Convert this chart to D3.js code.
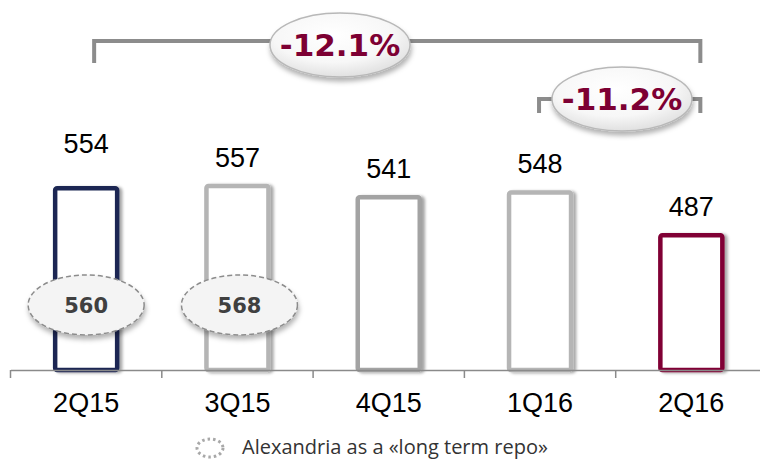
<!DOCTYPE html>
<html>
<head>
<meta charset="utf-8">
<script src="https://cdn.jsdelivr.net/npm/d3@7"></script>
<style>
  html, body { margin: 0; padding: 0; background: #fff; }
  svg { display: block; }
</style>
</head>
<body>
<svg id="chart" width="760" height="461"></svg>
<script>
const quarters = ["2Q15", "3Q15", "4Q15", "1Q16", "2Q16"];
const values = [554, 557, 541, 548, 487];
const alexandria = [560, 568, null, null, null];
const changes = [
  { label: "-12.1%", from: "2Q15", to: "2Q16" },
  { label: "-11.2%", from: "1Q16", to: "2Q16" }
];
const legendText = "Alexandria as a «long term repo»";

const barColors = ["#1b2752", "#b5b5b5", "#a3a3a3", "#b5b5b5", "#800034"];
const labelLift = [16, 0, 0, 0, 0];   // 2Q15 label sits higher in the original

const svg = d3.select("#chart");
const baseY = 370;

const x = d3.scaleBand()
  .domain(quarters)
  .range([10.5, 767])
  .paddingInner(0)
  .paddingOuter(0);

const y = d3.scaleLinear()
  .domain([292, 560])
  .range([baseY, baseY - 0.7015 * 268]);

const cx = q => x(q) + x.bandwidth() / 2;

// filters
const defs = svg.append("defs");
const sh = defs.append("filter").attr("id", "barShadow")
  .attr("x", "-20%").attr("y", "-10%").attr("width", "150%").attr("height", "130%");
sh.append("feDropShadow").attr("dx", 3).attr("dy", 1).attr("stdDeviation", 1.8)
  .attr("flood-color", "#000").attr("flood-opacity", 0.35);

const osh = defs.append("filter").attr("id", "ovalShadow")
  .attr("x", "-20%").attr("y", "-20%").attr("width", "140%").attr("height", "150%");
osh.append("feDropShadow").attr("dx", 1).attr("dy", 4).attr("stdDeviation", 2.5)
  .attr("flood-color", "#000").attr("flood-opacity", 0.3);

const grad = defs.append("radialGradient").attr("id", "ovalFill")
  .attr("cx", "45%").attr("cy", "35%").attr("r", "70%");
grad.append("stop").attr("offset", "0%").attr("stop-color", "#ffffff");
grad.append("stop").attr("offset", "60%").attr("stop-color", "#f7f7f7");
grad.append("stop").attr("offset", "100%").attr("stop-color", "#dcdcdc");

// bars
const barW = 62;
svg.selectAll("rect.bar")
  .data(values)
  .join("rect")
  .attr("class", "bar")
  .attr("x", (d, i) => cx(quarters[i]) - barW / 2)
  .attr("y", d => y(d) + 2)
  .attr("width", barW)
  .attr("height", d => baseY - y(d) - 2)
  .attr("rx", 2)
  .attr("fill", "#fff")
  .attr("stroke", (d, i) => barColors[i])
  .attr("stroke-width", 4.5)
  .attr("filter", "url(#barShadow)");

// value labels
svg.selectAll("text.value")
  .data(values)
  .join("text")
  .attr("class", "value")
  .attr("x", (d, i) => cx(quarters[i]))
  .attr("y", (d, i) => y(d) - 17 - labelLift[i])
  .attr("text-anchor", "middle")
  .attr("font-family", "Liberation Sans, Arial, sans-serif")
  .attr("font-size", "27px")
  .attr("fill", "#000")
  .text(d => d);

// axis
const axis = svg.append("g")
  .attr("transform", `translate(0,${baseY})`)
  .call(d3.axisBottom(x).tickSize(0).tickSizeOuter(0));
axis.select(".domain").attr("stroke", "#8a8a8a").attr("stroke-width", 1.5);
axis.selectAll(".tick text")
  .attr("dy", null)
  .attr("y", 42)
  .attr("font-family", "Liberation Sans, Arial, sans-serif")
  .attr("font-size", "27px")
  .attr("fill", "#000");
svg.selectAll("line.sep")
  .data(quarters)
  .join("line")
  .attr("class", "sep")
  .attr("x1", d => x(d)).attr("x2", d => x(d))
  .attr("y1", baseY).attr("y2", baseY + 8)
  .attr("stroke", "#8a8a8a")
  .attr("stroke-width", 1.5);

// Alexandria ovals
const alex = alexandria.map((v, i) => ({ v, q: quarters[i] })).filter(d => d.v != null);
const ag = svg.selectAll("g.alex").data(alex).join("g").attr("class", "alex");
ag.append("ellipse")
  .attr("cx", d => cx(d.q) + (d.q === "3Q15" ? 2 : 0))
  .attr("cy", 305)
  .attr("rx", 58).attr("ry", 30)
  .attr("fill", "#f4f4f4")
  .attr("stroke", "#8c8c8c")
  .attr("stroke-width", 1.5)
  .attr("stroke-dasharray", "5,3")
  .attr("filter", "url(#ovalShadow)");
ag.append("text")
  .attr("x", d => cx(d.q) + (d.q === "3Q15" ? 2 : 0))
  .attr("y", 313)
  .attr("text-anchor", "middle")
  .attr("font-family", "DejaVu Sans, Verdana, sans-serif")
  .attr("font-weight", "bold")
  .attr("font-size", "21px")
  .attr("fill", "#404040")
  .text(d => d.v);

// change brackets
const bracketLayout = [
  { left: 8, right: 9, top: 41, drop: 22, ox: 340, oy: 45 },
  { left: -1, right: 9, top: 99, drop: 14, ox: 622, oy: 99 }
];
changes.forEach((c, i) => {
  const L = bracketLayout[i];
  const x1 = cx(c.from) + L.left, x2 = cx(c.to) + L.right;
  svg.append("path")
    .attr("d", `M${x1},${L.top + L.drop}V${L.top}H${x2}V${L.top + L.drop}`)
    .attr("fill", "none")
    .attr("stroke", "#8c8c8c")
    .attr("stroke-width", 4);
});
changes.forEach((c, i) => {
  const L = bracketLayout[i];
  svg.append("ellipse")
    .attr("cx", L.ox).attr("cy", L.oy)
    .attr("rx", 70).attr("ry", 32)
    .attr("fill", "url(#ovalFill)")
    .attr("stroke", "#b8b8b8")
    .attr("stroke-width", 1.5)
    .attr("filter", "url(#ovalShadow)");
  svg.append("text")
    .attr("x", L.ox).attr("y", L.oy + 11)
    .attr("text-anchor", "middle")
    .attr("font-family", "DejaVu Sans, Verdana, sans-serif")
    .attr("font-weight", "bold")
    .attr("font-size", "31px")
    .attr("fill", "#7d0033")
    .text(c.label);
});

// legend
svg.append("ellipse")
  .attr("cx", 210).attr("cy", 448)
  .attr("rx", 13).attr("ry", 9)
  .attr("fill", "none")
  .attr("stroke", "#a8a8a8")
  .attr("stroke-width", 3)
  .attr("stroke-dasharray", "2.5,3");
svg.append("text")
  .attr("x", 242).attr("y", 454)
  .attr("font-family", "Open Sans, sans-serif")
  .attr("font-size", "20px")
  .attr("fill", "#333")
  .text(legendText);
</script>
</body>
</html>
